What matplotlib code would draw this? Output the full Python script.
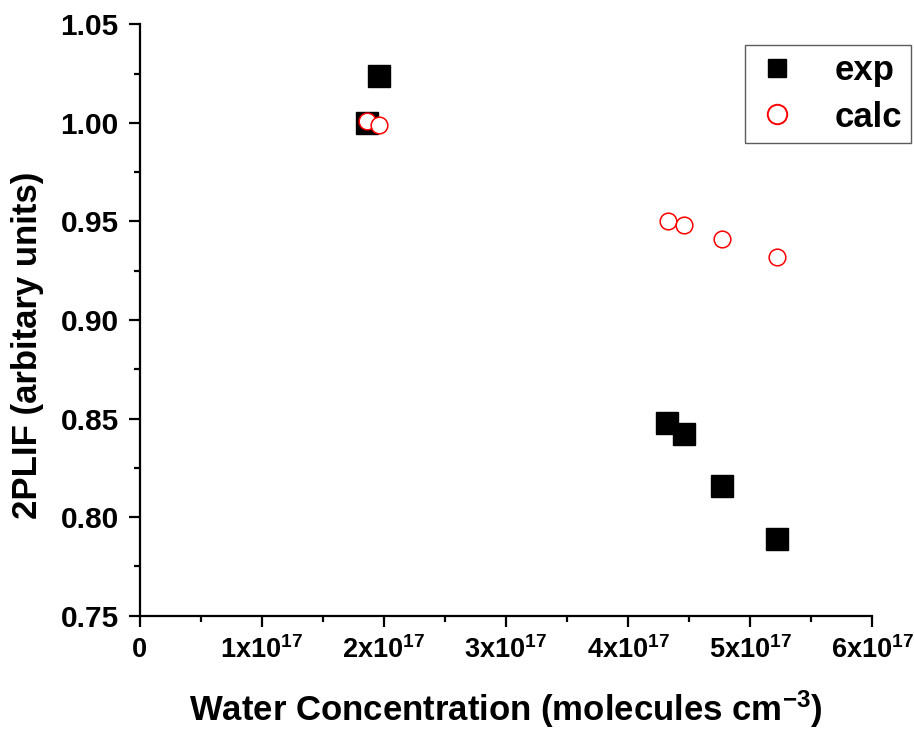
import matplotlib
matplotlib.use("Agg")
import matplotlib.pyplot as plt
from matplotlib.lines import Line2D
from matplotlib.ticker import MultipleLocator, FixedLocator

plt.rcParams['font.family'] = ['Liberation Sans', 'DejaVu Sans']
plt.rcParams['font.weight'] = 'bold'
plt.rcParams['mathtext.fontset'] = 'custom'
plt.rcParams['mathtext.rm'] = 'Liberation Sans:bold'
plt.rcParams['mathtext.it'] = 'Liberation Sans:bold'
plt.rcParams['mathtext.bf'] = 'Liberation Sans:bold'

# data
exp_x = [1.86e17, 1.96e17, 4.32e17, 4.46e17, 4.77e17, 5.22e17]
exp_y = [1.000, 1.024, 0.848, 0.842, 0.816, 0.789]
calc_x = [1.86e17, 1.96e17, 4.33e17, 4.46e17, 4.77e17, 5.22e17]
calc_y = [1.001, 0.999, 0.950, 0.948, 0.941, 0.932]

x_ticks = [0, 1e17, 2e17, 3e17, 4e17, 5e17, 6e17]
x_ticklabels = ['0', r'1x10$^{17}$', r'2x10$^{17}$', r'3x10$^{17}$',
                r'4x10$^{17}$', r'5x10$^{17}$', r'6x10$^{17}$']
y_ticks = [0.75, 0.80, 0.85, 0.90, 0.95, 1.00, 1.05]
y_ticklabels = ['0.75', '0.80', '0.85', '0.90', '0.95', '1.00', '1.05']

fig = plt.figure(figsize=(9.14, 7.31), dpi=100)
ax = fig.add_axes([139.5/914, 1 - 615.7/731, (872.3-139.5)/914, (615.7-24.3)/731])

ax.plot(exp_x, exp_y, linestyle='none', marker='s', markersize=16.5,
        color='black', zorder=3)
ax.plot(calc_x, calc_y, linestyle='none', marker='o', markersize=12,
        markerfacecolor='white', markeredgecolor='red', markeredgewidth=1.1, zorder=4)

ax.set_xlim(0, 6e17)
ax.set_ylim(0.75, 1.05)
ax.xaxis.set_major_locator(FixedLocator(x_ticks))
ax.set_xticklabels(x_ticklabels)
ax.xaxis.set_minor_locator(MultipleLocator(0.5e17))
ax.yaxis.set_major_locator(FixedLocator(y_ticks))
ax.set_yticklabels(y_ticklabels)
ax.yaxis.set_minor_locator(MultipleLocator(0.025))

for s in ['top', 'right']:
    ax.spines[s].set_visible(False)
for s in ['left', 'bottom']:
    ax.spines[s].set_linewidth(1.6)

ax.tick_params(which='major', direction='out', length=8, width=1.6, pad=7)
ax.tick_params(axis='y', which='major', labelsize=21.5)
ax.tick_params(axis='x', which='major', labelsize=19.5)
ax.tick_params(which='minor', direction='out', length=4, width=1.6)
for lab in ax.get_xticklabels() + ax.get_yticklabels():
    lab.set_fontweight('bold')

ax.set_xlabel(r'Water Concentration (molecules cm$^{-3}$)', fontsize=25,
              fontweight='bold', va='center')
ax.xaxis.set_label_coords(0.5, -0.158)
ax.set_ylabel('2PLIF (arbitary units)', fontsize=25, fontweight='bold', va='center')
ax.yaxis.set_label_coords(-0.1535, 0.458)

handles = [
    Line2D([], [], linestyle='none', marker='s', markersize=13, color='black'),
    Line2D([], [], linestyle='none', marker='o', markersize=14,
           markerfacecolor='white', markeredgecolor='red', markeredgewidth=1.4),
]
leg = fig.legend(handles, ['exp', 'calc'], loc='upper left',
                 bbox_to_anchor=(745/914, 1 - 45/731),
                 prop={'family': 'Liberation Sans', 'weight': 'bold', 'size': 25},
                 frameon=True, fancybox=False, borderpad=0.27, labelspacing=0.38,
                 handlelength=1.3, handletextpad=1.0, borderaxespad=0)
leg.get_frame().set_edgecolor('#333333')
leg.get_frame().set_linewidth(1.0)

fig.savefig('out.png', dpi=100)
